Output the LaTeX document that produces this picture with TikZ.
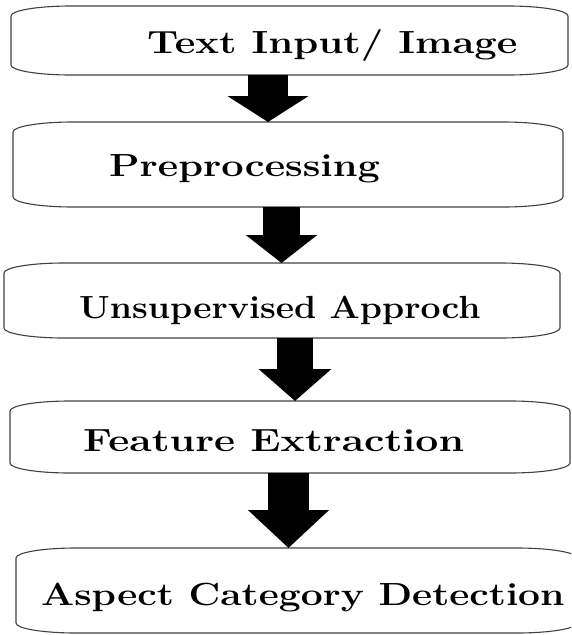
\documentclass[tikz,border=0pt]{standalone}
\usepackage{fontspec}
\usepackage{graphicx}
\usetikzlibrary{arrows.meta}

% corner radii of the stage boxes
\newcommand{\cornx}{60pt}
\newcommand{\corny}{10pt}
% the lettering of the original is stretched sideways
\newcommand{\wide}[2][1.25]{\scalebox{#1}[1]{#2}}
\newcommand{\stageoutline}[1]{%
  \draw[outline] ([xshift=\cornx]#1.north west) -- ([xshift=-\cornx]#1.north east)
    arc[start angle=90, end angle=0, x radius=\cornx, y radius=\corny]
    -- ([yshift=\corny]#1.south east)
    arc[start angle=0, end angle=-90, x radius=\cornx, y radius=\corny]
    -- ([xshift=\cornx]#1.south west)
    arc[start angle=270, end angle=180, x radius=\cornx, y radius=\corny]
    -- ([yshift=-\corny]#1.north west)
    arc[start angle=180, end angle=90, x radius=\cornx, y radius=\corny] -- cycle;}

\begin{document}
\begin{tikzpicture}[x=1pt, y=-1pt,
    stage/.style={rectangle, draw=none, inner sep=0pt, outer sep=0pt},
    outline/.style={draw=black!75, line width=1.1pt},
    label/.style={anchor=base west, inner sep=0pt, font=\bfseries\fontsize{32}{34}\selectfont},
    fat/.style={draw=black, line width=#1}]
  \clip (0,0) rectangle (571,635);

  % stages
  \node[stage, minimum width=557pt, minimum height=69pt] (inp) at (289.5,40.5) {};
  \node[stage, minimum width=550pt, minimum height=85pt] (pre) at (288,164.5) {};
  \node[stage, minimum width=556pt, minimum height=75pt] (uns) at (282,300.5) {};
  \node[stage, minimum width=560pt, minimum height=72pt] (fea) at (290,437) {};
  \node[stage, minimum width=561pt, minimum height=85pt] (asp) at (296.5,590.5) {};
  \foreach \s in {inp,pre,uns,fea,asp}
    \stageoutline{\s};

  \node[label] (inptext) at (147,53) {\wide{Text Input/ Image}};
  \node[label] (pretext) at (109,176) {\wide[1.24]{Preprocessing}};
  \node[label] (unstext) at (79,318) {\wide[1.11]{Unsupervised Approch}};
  \node[label] (featext) at (83,451) {\wide[1.28]{Feature Extraction}};
  \node[label] (asptext) at (41,605) {\wide[1.22]{Aspect Category Detection}};

  % block arrows
  \draw[fat=40pt, -{Triangle[width=80pt, length=26pt]}]
    ([xshift=-21.5pt]inp.south) -- ([xshift=-21.5pt]inp.south |- pre.north);
  \draw[fat=37pt, -{Triangle[width=70pt, length=28pt]}]
    ([xshift=-6.5pt]pre.south) -- ([xshift=-6.5pt]pre.south |- uns.north);
  \draw[fat=36pt, -{Triangle[width=71pt, length=32pt]}]
    ([xshift=13pt]uns.south) -- ([xshift=13pt]uns.south |- fea.north);
  \draw[fat=41pt, -{Triangle[width=79pt, length=38pt]}]
    ([xshift=-1.5pt]fea.south) -- ([xshift=-1.5pt]fea.south |- asp.north);
\end{tikzpicture}
\end{document}
